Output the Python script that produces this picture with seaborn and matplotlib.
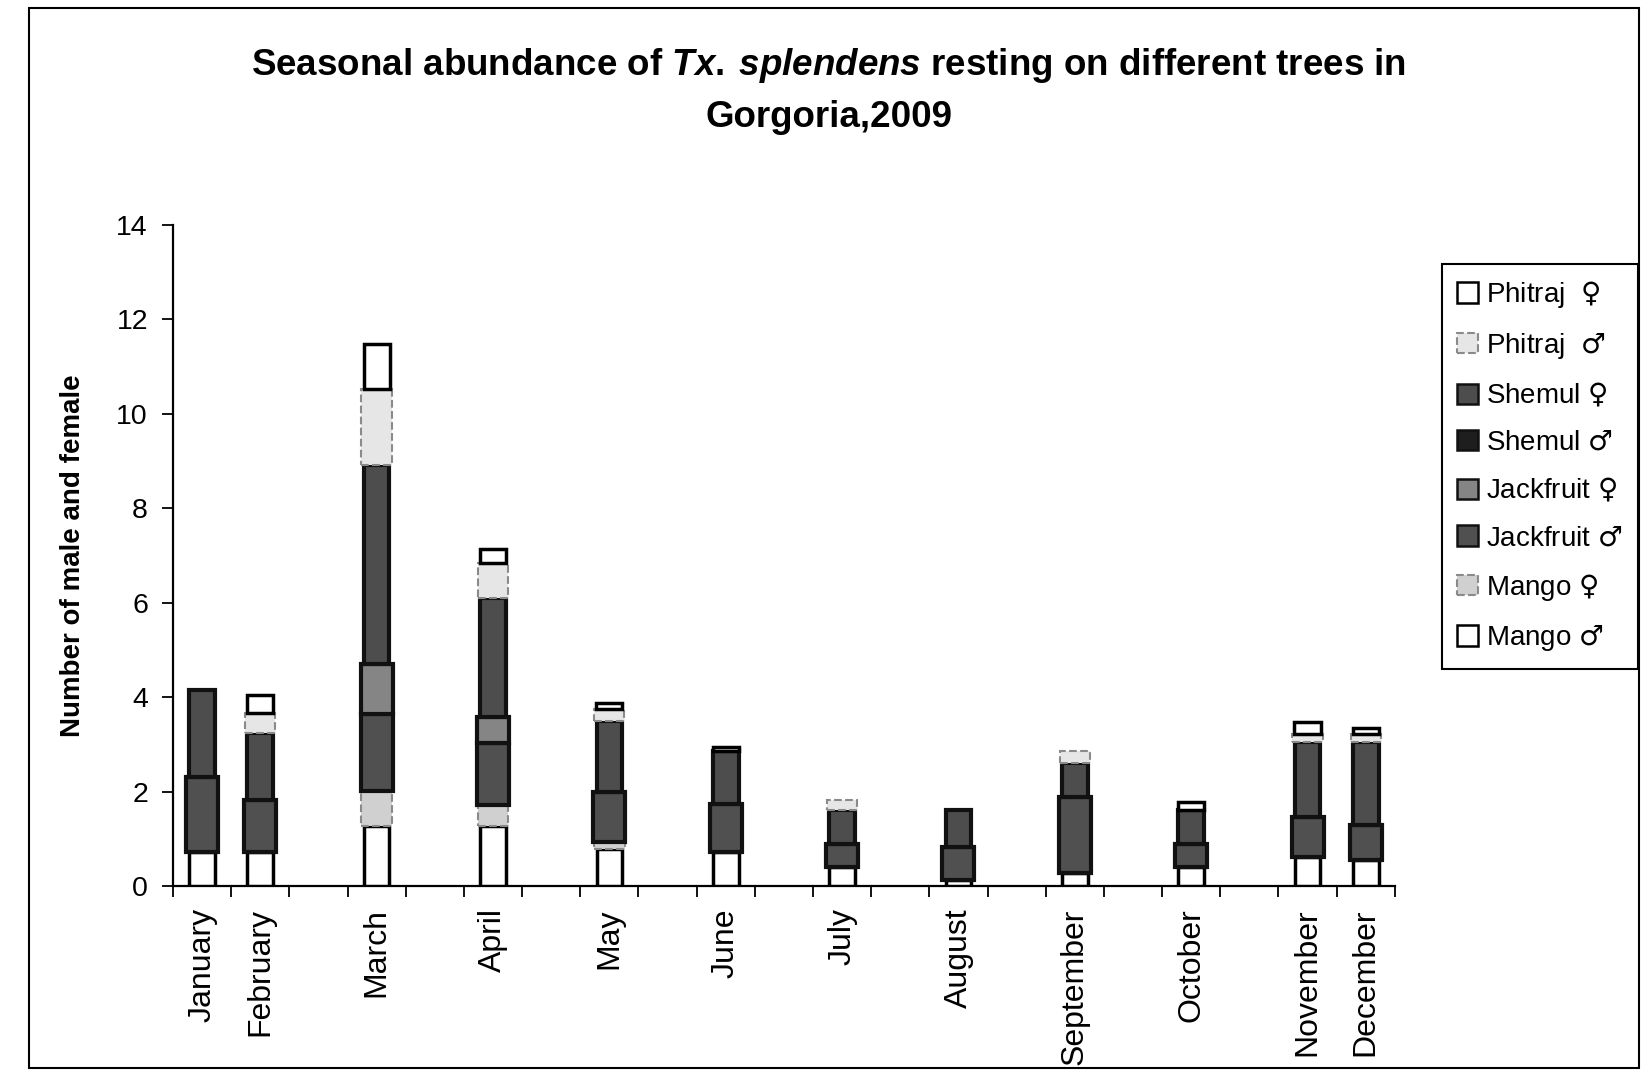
import numpy as np
import matplotlib
matplotlib.use("Agg")
import matplotlib.pyplot as plt
from matplotlib.patches import Patch, Rectangle
import seaborn as sns

# ------------------------------------------------------------------
# data
# ------------------------------------------------------------------
months = ['January', 'February', 'March', 'April', 'May', 'June', 'July',
          'August', 'September', 'October', 'November', 'December']
# category slot of each month on the (21 slot) category axis
slots = [0, 1, 3, 5, 7, 9, 11, 13, 15, 17, 19, 20]
n_slots = 21

mango_m = [0.72, 0.72, 1.27, 1.27, 0.79, 0.72, 0.41, 0.13, 0.27, 0.41, 0.62, 0.55]
mango_f = [0, 0, 0.75, 0.44, 0.14, 0, 0, 0, 0, 0, 0, 0]
jack_m = [1.58, 1.10, 1.63, 1.32, 1.06, 1.02, 0.49, 0.70, 1.61, 0.49, 0.84, 0.75]
jack_f = [0, 0, 1.06, 0.56, 0, 0, 0, 0, 0, 0, 0, 0]
shemul_m = [0, 0, 0, 0, 0, 0, 0, 0, 0, 0, 0, 0]
shemul_f = [1.85, 1.43, 4.21, 2.52, 1.51, 1.13, 0.70, 0.77, 0.73, 0.70, 1.60, 1.74]
phit_m = [0, 0.41, 1.60, 0.73, 0.24, 0, 0.23, 0, 0.24, 0, 0.16, 0.18]
phit_f = [0, 0.38, 0.95, 0.29, 0.14, 0.07, 0, 0, 0, 0.19, 0.26, 0.12]

FEM = '$\\mathsf{\u2640}$'
MAL = '$\\mathsf{\u2642}$'

# stacking order, bottom -> top
series = [
    ('Mango ' + MAL, mango_m),
    ('Mango ' + FEM, mango_f),
    ('Jackfruit ' + MAL, jack_m),
    ('Jackfruit ' + FEM, jack_f),
    ('Shemul ' + MAL, shemul_m),
    ('Shemul ' + FEM, shemul_f),
    ('Phitraj  ' + MAL, phit_m),
    ('Phitraj  ' + FEM, phit_f),
]

# look of each series (scanned grey-scale 3D columns), same order
styles = [
    dict(color='white', edgecolor='black', linewidth=2.5, width=0.44),
    dict(color='#d0d0d0', edgecolor='#8a8a8a', linewidth=1.5, width=0.53, linestyle='--'),
    dict(color='#505050', edgecolor='#111111', linewidth=3, width=0.55),
    dict(color='#858585', edgecolor='#111111', linewidth=3, width=0.55),
    dict(color='#1e1e1e', edgecolor='#111111', linewidth=3, width=0.44),
    dict(color='#4d4d4d', edgecolor='#111111', linewidth=3, width=0.44),
    dict(color='#e6e6e6', edgecolor='#8a8a8a', linewidth=1.5, width=0.52, linestyle='--'),
    dict(color='white', edgecolor='black', linewidth=2.5, width=0.45),
]

# ------------------------------------------------------------------
# style
# ------------------------------------------------------------------
sns.set_style("ticks")
plt.rcParams['font.family'] = ['Liberation Sans', 'DejaVu Sans']
plt.rcParams['mathtext.fontset'] = 'custom'
plt.rcParams['mathtext.rm'] = 'Liberation Sans:bold'
plt.rcParams['mathtext.it'] = 'Liberation Sans:italic:bold'
plt.rcParams['mathtext.sf'] = 'DejaVu Sans'
for k in ['text.color', 'axes.labelcolor', 'xtick.color', 'ytick.color']:
    plt.rcParams[k] = 'black'

fig = plt.figure(figsize=(16.41, 10.71), dpi=100)
ax = fig.add_axes([0.1054, 0.1727, 0.7446, 0.6173])

x = np.array(slots)
bottom = np.zeros(len(months))
for (name, vals), st in zip(series, styles):
    vals = np.array(vals, dtype=float)
    st = dict(st)
    w = st.pop('width')
    m = vals > 0
    ax.bar(x[m], vals[m], bottom=bottom[m], width=w, zorder=3, **st)
    bottom += vals

# axes
ax.set_xlim(-0.5, n_slots - 0.5)
ax.set_ylim(0, 14)
ax.set_yticks(np.arange(0, 15, 2))
ax.set_xticks(slots)
ax.set_xticklabels(months, rotation=90, fontsize=23)
ax.set_xticks(np.arange(-0.5, n_slots, 1), minor=True)
ax.tick_params(axis='x', which='major', length=0, pad=16)
ax.tick_params(axis='x', which='minor', length=8, width=1.3, direction='out')
ax.tick_params(axis='y', length=8, width=1.3, direction='out', labelsize=20.5, pad=10)
for s in ['top', 'right']:
    ax.spines[s].set_visible(False)
for s in ['left', 'bottom']:
    ax.spines[s].set_color('black')
    ax.spines[s].set_linewidth(1.6)

ax.set_ylabel('Number of male and female', fontsize=20, fontweight='bold', labelpad=22)

fig.text(0.505, 0.939,
         r'Seasonal abundance of $\mathit{Tx.\:splendens}$ resting on different trees in',
         ha='center', va='center', fontsize=26.5, fontweight='bold')
fig.text(0.505, 0.89, 'Gorgoria,2009', ha='center', va='center',
         fontsize=26.5, fontweight='bold')

# legend (top of stack first)
handles = []
for (name, _), st in list(zip(series, styles))[::-1]:
    handles.append(Patch(facecolor=st['color'], edgecolor=st['edgecolor'],
                         linewidth=min(st['linewidth'], 1.8),
                         linestyle=st.get('linestyle', '-'), label=name))
leg = fig.legend(handles=handles, loc='upper right', bbox_to_anchor=(0.998, 0.7535),
                 fontsize=20, frameon=True, fancybox=False, framealpha=1,
                 edgecolor='black', handlelength=0.75, handleheight=0.75,
                 handletextpad=0.3, labelspacing=0.74, borderpad=0.55,
                 borderaxespad=0)
leg.get_frame().set_linewidth(1.5)

# outer chart-area border
fig.patches.append(Rectangle((0.0177, 0.0028), 0.9811, 0.9897, transform=fig.transFigure,
                             fill=False, edgecolor='black', linewidth=1.5))

fig.savefig('out.png', dpi=100, facecolor='white')
